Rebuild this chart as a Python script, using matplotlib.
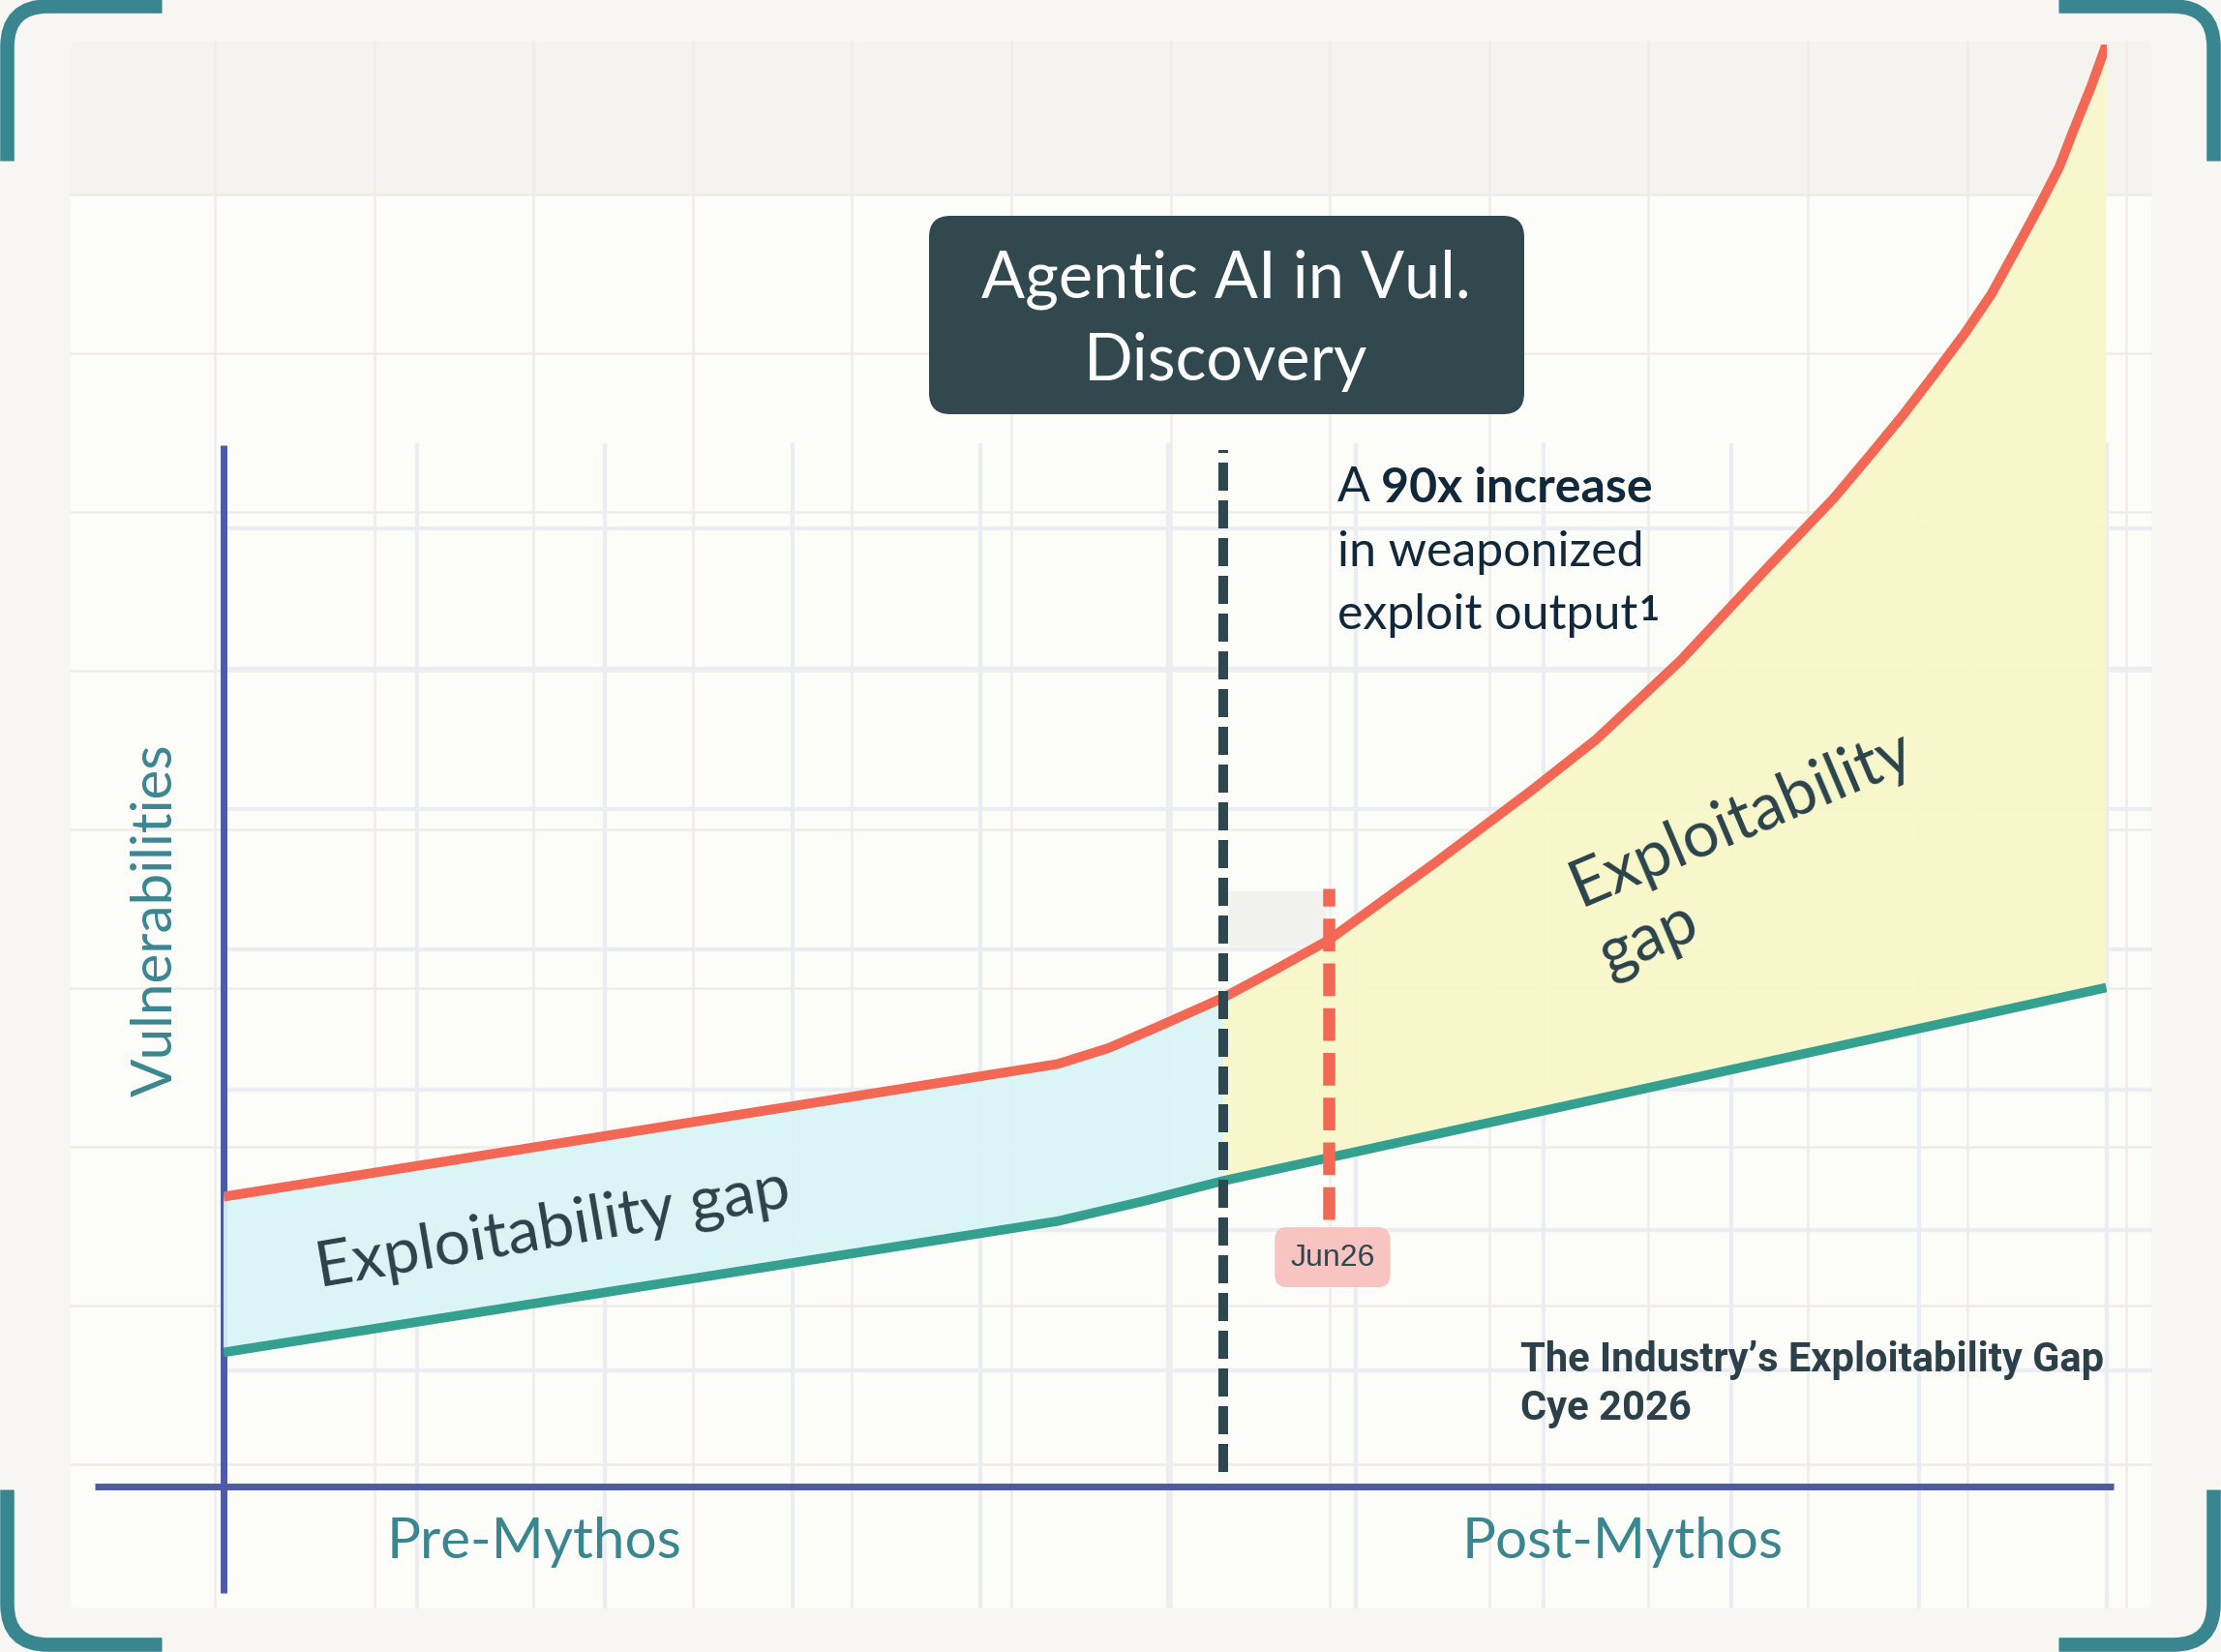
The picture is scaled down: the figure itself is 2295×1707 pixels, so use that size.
"""
Exploitability gap chart - Pre vs Post Mythos.
"""
import numpy as np
import matplotlib
matplotlib.use('Agg')
import matplotlib.pyplot as plt
from matplotlib.patches import FancyBboxPatch, Rectangle, PathPatch
from matplotlib.path import Path

# --- data (time in arbitrary units 0-100, vulnerabilities 0-100) ---
time_found = [0, 44.3, 47.0, 50.0, 53.1, 55.8, 58.7, 64.4, 69.5, 72.9, 77.4,
              82.2, 83.6, 85.5, 87.5, 89.2, 90.9, 92.5, 93.9, 95.2, 96.4,
              97.5, 98.3, 99.2, 100]
vulns_found = [20.1, 29.3, 30.4, 32.1, 33.9, 35.8, 37.9, 43.3, 48.3, 51.8, 57.3,
               64.0, 65.9, 68.5, 71.6, 74.3, 77.2, 80.0, 82.7, 85.8, 88.7,
               91.5, 94.2, 97.1, 100]
time_fixed = [0, 44.3, 48.9, 53.1, 60.1, 100]
vulns_fixed = [9.3, 18.4, 19.8, 21.2, 23.2, 34.6]

mythos_x = 53.1          # Agentic AI in vul. discovery
mythos_span = (1.0, 71.9)
jun26_x = 58.7
jun26_span = (18.5, 41.5)
jun26_label = "Jun26"
period_labels = ["Pre-Mythos", "Post-Mythos"]

# --- colours ---
RED = '#F26854'
GREEN = '#34A08F'
BLUE_FILL = '#D9F5F7'
YELLOW_FILL = '#F8F7C8'
DARK = '#2F474E'
INDIGO = '#4D5AA6'
TEAL = '#3A8690'
NAVY = '#10283A'
SLATE = '#2A434B'

W, H = 2295, 1708
fig = plt.figure(figsize=(W / 100, H / 100), dpi=100, facecolor='#F7F6F2')

# background axes in pixel coordinates
bg = fig.add_axes([0, 0, 1, 1])
bg.set_xlim(0, W)
bg.set_ylim(H, 0)
bg.axis('off')
bg.set_facecolor('none')

bg.add_patch(Rectangle((73, 44), 2149, 1617, color='#FCFCF9', zorder=0))
bg.add_patch(Rectangle((73, 44), 2149, 158, color='#F4F3F0', zorder=0.5))

# light grid (two layers)
for k in range(13):
    x = 222 + 164.6 * k
    bg.plot([x, x], [44, 1661], color='#EEEDE9', lw=1.8, zorder=1)
for k in range(9):
    y = 202 + 164 * k
    bg.plot([73, 2222], [y, y], color='#EEEDE9', lw=1.8, zorder=1)
for k in range(10):
    x = 431 + 194 * k
    bg.plot([x, x], [461, 1661], color='#ECEDF3', lw=3, zorder=1)
for k in range(7):
    y = 547 + 145 * k
    bg.plot([231, 2222], [y, y], color='#ECEDF3', lw=3, zorder=1)

bg.add_patch(Rectangle((1270, 922), 99, 56, color='#F1F1EE', zorder=1.5))

# corner brackets
def bracket(cx, cy, sx, sy):
    L, r = 160, 42
    verts = [(cx + sx * L, cy), (cx + sx * r, cy), (cx, cy), (cx, cy + sy * r), (cx, cy + sy * L)]
    codes = [Path.MOVETO, Path.LINETO, Path.CURVE3, Path.CURVE3, Path.LINETO]
    bg.add_patch(PathPatch(Path(verts, codes), fill=False, edgecolor=TEAL,
                           lw=10.5, capstyle='butt', zorder=5))

bracket(7.5, 7.5, 1, 1)
bracket(W - 7.5, 7.5, -1, 1)
bracket(7.5, H - 7.5, 1, -1)
bracket(W - 7.5, H - 7.5, -1, -1)

# axis lines
bg.plot([98, 2184], [1537, 1537], color=INDIGO, lw=5, solid_capstyle='butt', zorder=6)
bg.plot([231, 231], [461, 1647], color=INDIGO, lw=5, solid_capstyle='butt', zorder=6)

# title box
bg.add_patch(FancyBboxPatch((960, 224), 615, 205, boxstyle='round,pad=0,rounding_size=22',
                            facecolor='#32484F', edgecolor='none', zorder=5))
bg.text(1267, 307, "Agentic AI in Vul.", color='white', fontsize=48, family='Lato',
        ha='center', va='baseline', zorder=6)
bg.text(1267, 393, "Discovery", color='white', fontsize=48, family='Lato',
        ha='center', va='baseline', zorder=6)

# annotation with mixed weights
t1 = bg.text(1382, 518, "A", color=NAVY, fontsize=36, family='Lato', va='baseline', zorder=6)
bg.annotate("90x increase", xy=(1, 0), xycoords=t1, xytext=(8, 0), textcoords='offset points',
            color=NAVY, fontsize=36, family='Lato', fontweight='bold', va='bottom', zorder=6)
bg.text(1382, 585, "in weaponized", color=NAVY, fontsize=36, family='Lato', va='baseline', zorder=6)
t3 = bg.text(1382, 650, "exploit output", color=NAVY, fontsize=36, family='Lato',
             va='baseline', zorder=6)
bg.annotate("1", xy=(1, 1), xycoords=t3, xytext=(1, -1), textcoords='offset points',
            color=NAVY, fontsize=26, family='Lato', fontweight='bold', va='top', zorder=6)

# labels
bg.text(161, 951, "Vulnerabilities", color=TEAL, fontsize=42, family='Lato',
        rotation=90, ha='center', va='center', zorder=6)
bg.text(552, 1594, period_labels[0], color=TEAL, fontsize=42, family='Lato',
        ha='center', va='center', zorder=6)
bg.text(1677, 1594, period_labels[1], color=TEAL, fontsize=42, family='Lato',
        ha='center', va='center', zorder=6)
bg.text(1571, 1417, "The Industry\u2019s Exploitability Gap", color='#2B4049', fontsize=30,
        family='Roboto', fontweight='bold', va='baseline', zorder=6)
bg.text(1571, 1467, "Cye 2026", color='#2B4049', fontsize=30,
        family='Roboto', fontweight='bold', va='baseline', zorder=6)

# --- chart axes ---
ax = fig.add_axes([231 / W, (H - 1537) / H, 1945.5 / W, 1490 / H])
ax.set_xlim(0, 100)
ax.set_ylim(0, 100)
ax.axis('off')
ax.set_facecolor('none')

tf = np.array(time_found)
vf = np.array(vulns_found)
tx = np.array(time_fixed)
vx = np.array(vulns_fixed)

pre_f = tf <= mythos_x
pre_x = tx <= mythos_x
ax.fill(np.concatenate([tf[pre_f], tx[pre_x][::-1]]),
        np.concatenate([vf[pre_f], vx[pre_x][::-1]]),
        color=BLUE_FILL, alpha=0.92, lw=0, zorder=1)
post_f = tf >= mythos_x
post_x = tx >= mythos_x
ax.fill(np.concatenate([tf[post_f], tx[post_x][::-1]]),
        np.concatenate([vf[post_f], vx[post_x][::-1]]),
        color=YELLOW_FILL, alpha=0.9, lw=0, zorder=1)

ax.plot(tx, vx, color=GREEN, lw=7, solid_capstyle='butt', solid_joinstyle='round', zorder=3)
ax.plot(tf, vf, color=RED, lw=7.2, solid_capstyle='butt', solid_joinstyle='round', zorder=3)

ax.vlines(mythos_x, *mythos_span, color=DARK, lw=7.2, linestyles=(0, (2.9, 1.0)), zorder=4)
ax.vlines(jun26_x, *jun26_span, color=RED, lw=9, linestyles=(0, (2.7, 1.0)), zorder=4)
ax.text(jun26_x + 0.2, 15.9, jun26_label, color=DARK, fontsize=23, family='Liberation Sans',
        ha='center', va='center', zorder=5,
        bbox=dict(boxstyle='round,pad=0.5,rounding_size=0.4', facecolor='#F7C4C1', edgecolor='none'))

ax.text(17.5, 17.9, "Exploitability gap", color=SLATE, fontsize=47.5, family='Lato',
        rotation=9.7, rotation_mode='anchor', ha='center', va='center', zorder=5)
ax.text(81.4, 44.0, "Exploitability\ngap", color=SLATE, fontsize=48, family='Lato',
        rotation=23, rotation_mode='anchor', ha='center', va='center',
        multialignment='left', linespacing=1.3, zorder=5)

fig.savefig('out.png', dpi=100, facecolor=fig.get_facecolor())
